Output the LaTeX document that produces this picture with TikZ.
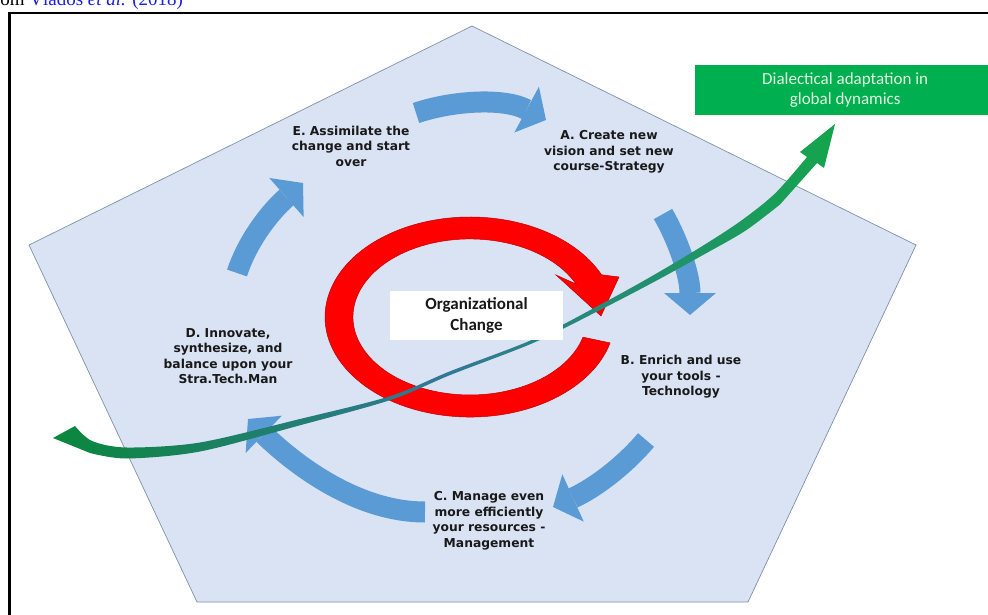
\documentclass[tikz,border=0pt]{standalone}
\usepackage{fontspec}
\setmainfont{Liberation Serif}
\newfontfamily\labfont{DejaVu Sans}
\newfontfamily\calfont{Carlito}
\usetikzlibrary{arrows.meta,calc}
\definecolor{pent}{RGB}{218,227,243}
\definecolor{pentedge}{RGB}{128,145,170}
\definecolor{barr}{RGB}{91,155,213}
\definecolor{redc}{RGB}{255,0,0}
\definecolor{gbox}{RGB}{0,176,80}
\definecolor{gL}{RGB}{10,135,60}
\definecolor{gM}{RGB}{50,120,150}
\definecolor{gR}{RGB}{20,165,75}
\definecolor{linkblue}{RGB}{30,30,225}
\definecolor{labtext}{RGB}{25,25,25}
\definecolor{gtext}{RGB}{225,245,225}
\begin{document}
\begin{tikzpicture}[x=1pt,y=1pt,
  barrow/.style={draw=barr, line width=21pt, -{Triangle[width=52pt,length=22pt,line width=0pt]}},
  lab/.style={font=\labfont\bfseries\fontsize{12.3}{15.5}\selectfont, text=labtext, align=center, inner sep=0pt},
]
\useasboundingbox (0,0) rectangle (988,-615);
% cut caption at top
\node[anchor=base west, inner sep=0pt, font=\fontsize{19}{22}\selectfont] (cap) at (-12.5,-6) {from \textcolor{linkblue}{Vlados \textit{et al.} (2018)}};
% pentagon
\filldraw[fill=pent, draw=pentedge, line width=0.7pt] (472,-26) -- (916,-245) -- (748,-602) -- (197,-602) -- (29,-245) -- cycle;
% blue cycle arrows
\coordinate (e1) at (416,-113); \coordinate (a1) at (546,-120);
\coordinate (e2) at (663,-214); \coordinate (a2) at (690,-315);
\coordinate (e3) at (646,-440); \coordinate (a3) at (553,-507);
\coordinate (e4) at (425,-512); \coordinate (a4) at (248,-419);
\coordinate (e5) at (237,-273); \coordinate (a5) at (303,-183);
\draw[barrow] (e1) .. controls (455,-100) and (505,-98) .. (a1);
\draw[barrow] (e2) .. controls (678,-240) and (690,-275) .. (a2);
\draw[barrow] (e3) .. controls (625,-465) and (595,-488) .. (a3);
\draw[barrow] (e4) .. controls (350,-512) and (285,-455) .. (a4);
\draw[barrow] (e5) .. controls (248,-240) and (270,-212) .. (a5);
% red circular arrow
\filldraw[fill=redc, draw=red!75!black, line width=0.5pt] (610.1,-342.9) arc[start angle=-15, end angle=-335, x radius=145, y radius=100]
  -- (619,-277) -- (601,-316) -- (556,-275) -- (576.0,-284.0)
  arc[start angle=-335, end angle=-15, x radius=117, y radius=78] -- cycle;
% green tapered arrow
\shade[left color=gL, right color=gR, middle color=gM]
  (53,-438) -- plot[smooth] coordinates {(75,-426) (92,-441) (127,-447.5) (200,-442.5) (300,-419) (390,-396.2) (450,-371.3) (533,-339.4) (600,-304.8) (650,-277.2) (700,-247.5) (740,-221.5) (775,-193.5) (807,-157)}
  -- (800,-152) -- (835,-124) -- (824,-168) -- (817,-163)
  -- plot[smooth] coordinates {(780,-204.5) (745,-231) (703,-255) (652,-283) (601,-309.5) (534,-342.6) (451,-374.7) (391,-399.8) (301,-425) (200,-451.5) (127,-458.5) (90,-453)} -- cycle;
% centre box
\node[fill=white, minimum width=173pt, minimum height=49pt, inner sep=0pt, align=center,
  font=\calfont\bfseries\fontsize{17}{21}\selectfont, text=labtext] (oc) at (476.5,-315.5) {Organizational\\Change};
% green box
\node[fill=gbox, minimum width=300pt, minimum height=50pt, inner sep=0pt, anchor=west, align=center,
  font=\calfont\fontsize{17}{20}\selectfont, text=gtext] (gb) at (695,-90) {Dialectical adaptation in\\global dynamics};
% labels
\node[lab] (E) at (351,-146) {E. Assimilate the\\change and start\\over};
\node[lab] (A) at (609,-152) {A. Create new\\vision and set new\\course-Strategy};
\node[lab] (D) at (228,-356) {D. Innovate,\\synthesize, and\\balance upon your\\Stra.Tech.Man};
\node[lab] (B) at (681,-377) {B. Enrich and use\\your tools -\\Technology};
\node[lab] (C) at (489,-521) {C. Manage even\\more efficiently\\your resources -\\Management};
% frame
\draw[line width=2.2pt] (9.5,-630) -- (9.5,-12.8) -- (1000,-12.8);
\end{tikzpicture}
\end{document}
